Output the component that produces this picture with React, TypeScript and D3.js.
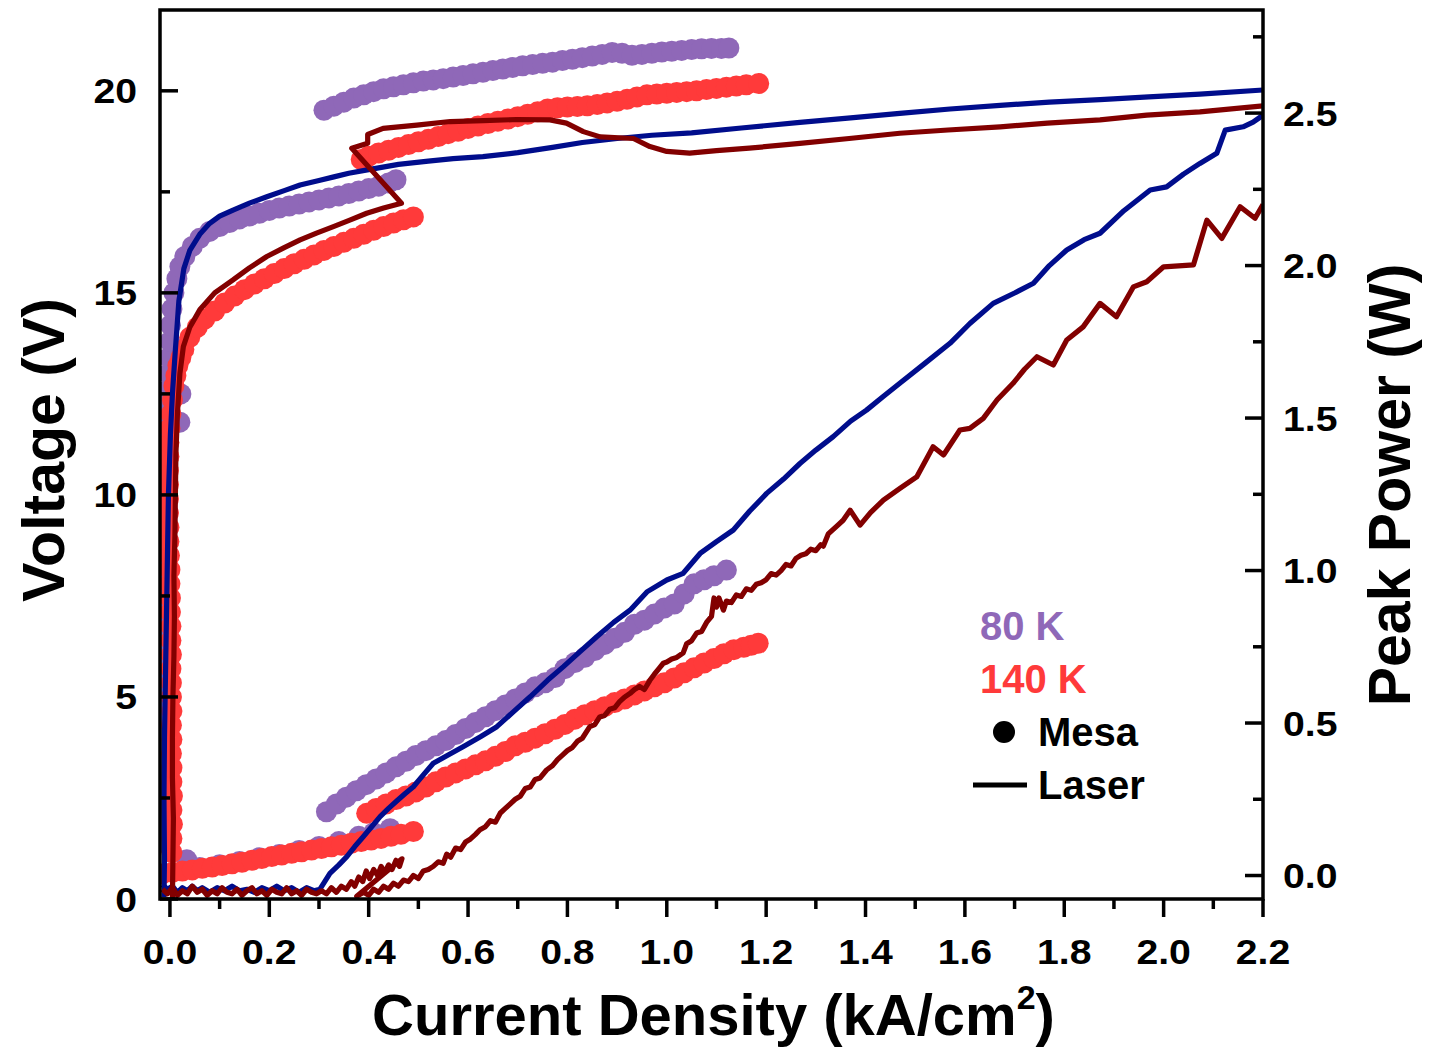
import React from 'react';
import * as d3 from 'd3';

type Pt = [number, number];

// ---------- axis ticks ----------
const xMajor = [0, 0.2, 0.4, 0.6, 0.8, 1.0, 1.2, 1.4, 1.6, 1.8, 2.0, 2.2];
const xMinor = [0.1, 0.3, 0.5, 0.7, 0.9, 1.1, 1.3, 1.5, 1.7, 1.9, 2.1];
const vMajor = [0, 5, 10, 15, 20];
const vMinor = [2.5, 7.5, 12.5, 17.5];
const pMajor = [0, 0.5, 1.0, 1.5, 2.0, 2.5];
const pMinor = [0.25, 0.75, 1.25, 1.75, 2.25, 2.75];

// ---------- Mesa 80 K (dots, left axis) ----------
const mesa80UpperA: Pt[] = [
  [-0.012, 1.4], [-0.012, 1.8], [-0.013, 2.2], [-0.012, 2.6], [-0.012, 3.0], [-0.013, 3.4], [-0.012, 3.8],
  [-0.011, 4.2], [-0.012, 4.6], [-0.011, 5.0], [-0.011, 5.4], [-0.012, 5.8], [-0.011, 6.2], [-0.012, 6.6],
  [-0.011, 7.0], [-0.01, 7.4], [-0.011, 7.8], [-0.01, 8.2], [-0.009, 8.6], [-0.01, 9.0], [-0.009, 9.4],
  [-0.009, 9.8], [-0.008, 10.2], [-0.008, 10.6], [-0.007, 11.0], [-0.007, 11.4], [0.02, 11.8], [0.022, 12.5],
  [-0.006, 11.8], [-0.005, 12.2], [-0.004, 12.6], [-0.003, 13.0], [-0.002, 13.4], [0.0, 13.8], [0.001, 14.2],
  [0.004, 14.6], [0.008, 15.0], [0.014, 15.35], [0.02, 15.65], [0.03, 15.9], [0.045, 16.15], [0.06, 16.35],
  [0.08, 16.52], [0.1, 16.64], [0.12, 16.74], [0.14, 16.83], [0.16, 16.9], [0.18, 16.97], [0.2, 17.04],
  [0.22, 17.1], [0.24, 17.15], [0.26, 17.2], [0.28, 17.25], [0.3, 17.3], [0.32, 17.35], [0.34, 17.4],
  [0.36, 17.46], [0.38, 17.52], [0.4, 17.58], [0.42, 17.64], [0.44, 17.72], [0.455, 17.8],
];
const mesa80UpperB: Pt[] = [
  [0.31, 19.52], [0.33, 19.62], [0.35, 19.72], [0.37, 19.82], [0.39, 19.9], [0.41, 19.98], [0.43, 20.05],
  [0.45, 20.1], [0.47, 20.15], [0.49, 20.2], [0.51, 20.24], [0.53, 20.27], [0.55, 20.3], [0.57, 20.34],
  [0.59, 20.38], [0.61, 20.42], [0.63, 20.46], [0.65, 20.5], [0.67, 20.54], [0.69, 20.58], [0.71, 20.62],
  [0.73, 20.65], [0.75, 20.68], [0.77, 20.71], [0.79, 20.75], [0.81, 20.78], [0.83, 20.82], [0.85, 20.86],
  [0.87, 20.9], [0.89, 20.95], [0.91, 20.93], [0.93, 20.88], [0.95, 20.9], [0.97, 20.93], [0.99, 20.96],
  [1.01, 20.98], [1.03, 21.0], [1.05, 21.02], [1.07, 21.04], [1.09, 21.05], [1.11, 21.05], [1.125, 21.06],
];
const mesa80LowerA: Pt[] = [
  [0.034, 0.97], [0.06, 0.78], [0.1, 0.85], [0.14, 0.93], [0.18, 1.02], [0.22, 1.1], [0.26, 1.2],
  [0.3, 1.3], [0.34, 1.42], [0.38, 1.55], [0.41, 1.64], [0.443, 1.74],
];
const mesa80LowerB: Pt[] = [
  [0.315, 2.16], [0.335, 2.35], [0.355, 2.52], [0.375, 2.68], [0.395, 2.83], [0.415, 2.97], [0.435, 3.12],
  [0.455, 3.27], [0.475, 3.41], [0.495, 3.55], [0.515, 3.67], [0.535, 3.79], [0.555, 3.92], [0.575, 4.07],
  [0.595, 4.22], [0.615, 4.37], [0.635, 4.51], [0.655, 4.66], [0.675, 4.8], [0.695, 4.95], [0.715, 5.1],
  [0.735, 5.25], [0.755, 5.35], [0.775, 5.48], [0.795, 5.7], [0.815, 5.85], [0.835, 5.98], [0.855, 6.15],
  [0.875, 6.3], [0.895, 6.45], [0.915, 6.6], [0.935, 6.8], [0.955, 6.9], [0.975, 7.05], [0.995, 7.2],
  [1.015, 7.3], [1.035, 7.55], [1.055, 7.8], [1.075, 7.9], [1.095, 8.0], [1.12, 8.14],
];

// ---------- Mesa 140 K (dots, left axis) ----------
const mesa140UpperA: Pt[] = [
  [0.004, 1.15], [0.004, 1.5], [0.005, 1.85], [0.004, 2.2], [0.005, 2.55], [0.004, 2.9], [0.004, 3.25],
  [0.003, 3.6], [0.004, 3.95], [0.003, 4.3], [0.004, 4.65], [0.003, 5.0], [0.003, 5.35], [0.002, 5.7],
  [0.003, 6.05], [0.002, 6.4], [0.002, 6.75], [0.001, 7.1], [0.001, 7.45], [0.0, 7.8], [0.0, 8.15],
  [-0.001, 8.5], [-0.002, 8.85], [-0.002, 9.2], [-0.003, 9.55], [-0.003, 9.9], [-0.003, 10.25],
  [-0.003, 10.6], [-0.002, 10.95], [-0.002, 11.3], [0.0, 11.65], [0.002, 12.0], [0.005, 12.35],
  [0.008, 12.7], [0.012, 12.95], [0.016, 13.2], [0.022, 13.4], [0.028, 13.6], [0.04, 13.9],
  [0.055, 14.15], [0.07, 14.35], [0.09, 14.55], [0.11, 14.75], [0.13, 14.92], [0.15, 15.08], [0.17, 15.22],
  [0.19, 15.35], [0.21, 15.48], [0.23, 15.6], [0.25, 15.72], [0.27, 15.83], [0.29, 15.94], [0.31, 16.05],
  [0.33, 16.15], [0.35, 16.25], [0.37, 16.35], [0.39, 16.45], [0.41, 16.55], [0.43, 16.64], [0.45, 16.73],
  [0.47, 16.81], [0.49, 16.88],
];
const mesa140UpperB: Pt[] = [
  [0.385, 18.3], [0.4, 18.38], [0.42, 18.46], [0.44, 18.53], [0.46, 18.6], [0.48, 18.67], [0.5, 18.74],
  [0.52, 18.8], [0.54, 18.87], [0.56, 18.94], [0.58, 19.0], [0.6, 19.07], [0.62, 19.13], [0.64, 19.19],
  [0.66, 19.25], [0.68, 19.3], [0.7, 19.36], [0.72, 19.42], [0.74, 19.48], [0.76, 19.55], [0.78, 19.58],
  [0.8, 19.6], [0.82, 19.61], [0.84, 19.63], [0.86, 19.66], [0.88, 19.7], [0.9, 19.74], [0.92, 19.79],
  [0.94, 19.85], [0.96, 19.9], [0.98, 19.92], [1.0, 19.94], [1.02, 19.96], [1.04, 19.98], [1.06, 20.0],
  [1.08, 20.03], [1.1, 20.06], [1.12, 20.09], [1.14, 20.12], [1.16, 20.15], [1.185, 20.18],
];
const mesa140LowerA: Pt[] = [
  [-0.015, 0.62], [0.005, 0.66], [0.025, 0.69], [0.045, 0.72], [0.065, 0.76], [0.085, 0.79], [0.105, 0.83],
  [0.125, 0.87], [0.145, 0.91], [0.165, 0.96], [0.185, 1.0], [0.205, 1.05], [0.225, 1.09], [0.245, 1.13],
  [0.265, 1.17], [0.285, 1.21], [0.305, 1.25], [0.325, 1.29], [0.345, 1.33], [0.365, 1.38], [0.385, 1.42],
  [0.405, 1.46], [0.425, 1.5], [0.445, 1.55], [0.465, 1.6], [0.49, 1.67],
];
const mesa140LowerB: Pt[] = [
  [0.396, 2.12], [0.415, 2.24], [0.435, 2.35], [0.455, 2.46], [0.475, 2.55], [0.495, 2.65], [0.515, 2.77],
  [0.535, 2.9], [0.555, 3.02], [0.575, 3.12], [0.595, 3.22], [0.615, 3.32], [0.635, 3.42], [0.655, 3.53],
  [0.675, 3.65], [0.695, 3.79], [0.715, 3.88], [0.735, 3.98], [0.755, 4.09], [0.775, 4.2], [0.795, 4.32],
  [0.815, 4.45], [0.835, 4.56], [0.855, 4.66], [0.875, 4.76], [0.895, 4.86], [0.915, 4.95], [0.935, 5.05],
  [0.955, 5.15], [0.975, 5.25], [0.995, 5.35], [1.015, 5.47], [1.035, 5.6], [1.055, 5.72], [1.075, 5.84],
  [1.095, 5.95], [1.115, 6.07], [1.135, 6.17], [1.155, 6.23], [1.17, 6.28], [1.184, 6.33],
];

// ---------- Laser 80 K (lines) ----------
const laser80Voltage: Pt[] = [
  [-0.012, 0.05], [-0.011, 1.0], [-0.012, 2.5], [-0.011, 4.0], [-0.009, 5.5], [-0.007, 7.0], [-0.005, 8.5],
  [-0.003, 10.0], [0.001, 11.5], [0.005, 12.5], [0.011, 13.6], [0.018, 14.8], [0.028, 15.6], [0.04, 16.05],
  [0.06, 16.45], [0.08, 16.72], [0.1, 16.9], [0.127, 17.05], [0.16, 17.22], [0.195, 17.38], [0.23, 17.53],
  [0.262, 17.67], [0.3, 17.78], [0.33, 17.87], [0.36, 17.96], [0.4, 18.05], [0.46, 18.18], [0.52, 18.26],
  [0.57, 18.32], [0.63, 18.37], [0.7, 18.47], [0.77, 18.6], [0.83, 18.72], [0.9, 18.82], [0.97, 18.9],
  [1.05, 18.96], [1.15, 19.08], [1.268, 19.22], [1.37, 19.33], [1.469, 19.44], [1.57, 19.55], [1.671, 19.64],
  [1.77, 19.72], [1.872, 19.78], [1.97, 19.85], [2.073, 19.92], [2.2, 20.02],
];
const laser80Power: Pt[] = [
  [-0.015, -0.03], [-0.005, -0.045], [0.005, -0.035], [0.015, -0.055], [0.025, -0.04], [0.035, -0.05],
  [0.045, -0.035], [0.055, -0.05], [0.065, -0.04], [0.08, -0.055], [0.095, -0.04], [0.11, -0.05],
  [0.125, -0.035], [0.14, -0.05], [0.155, -0.045], [0.17, -0.055], [0.185, -0.04], [0.2, -0.05],
  [0.215, -0.035], [0.23, -0.05], [0.245, -0.04], [0.26, -0.055], [0.275, -0.04], [0.29, -0.05],
  [0.302, -0.045], [0.322, 0.007], [0.34, 0.035], [0.356, 0.062], [0.372, 0.095], [0.389, 0.127],
  [0.406, 0.16], [0.423, 0.193], [0.44, 0.22], [0.457, 0.245], [0.473, 0.268], [0.49, 0.291], [0.51, 0.33],
  [0.53, 0.368], [0.56, 0.395], [0.59, 0.422], [0.625, 0.455], [0.658, 0.488], [0.69, 0.535], [0.725, 0.586],
  [0.76, 0.64], [0.792, 0.685], [0.826, 0.735], [0.859, 0.783], [0.893, 0.83], [0.926, 0.87], [0.96, 0.93],
  [1.0, 0.969], [1.033, 0.991], [1.067, 1.056], [1.1, 1.095], [1.134, 1.133], [1.167, 1.195], [1.201, 1.253],
  [1.235, 1.3], [1.268, 1.351], [1.3, 1.395], [1.335, 1.439], [1.37, 1.49], [1.402, 1.526], [1.435, 1.57],
  [1.469, 1.614], [1.52, 1.68], [1.57, 1.745], [1.61, 1.81], [1.657, 1.876], [1.7, 1.91], [1.738, 1.942],
  [1.77, 2.0], [1.805, 2.051], [1.84, 2.085], [1.872, 2.106], [1.92, 2.18], [1.973, 2.248], [2.006, 2.258],
  [2.04, 2.3], [2.073, 2.335], [2.107, 2.368], [2.124, 2.444], [2.16, 2.455], [2.18, 2.47], [2.2, 2.493],
];

// ---------- Laser 140 K (lines) ----------
const laser140Voltage: Pt[] = [
  [0.005, 0.0], [0.006, 1.0], [0.007, 2.0], [0.005, 3.0], [0.005, 4.0], [0.006, 5.0], [0.008, 6.0],
  [0.009, 7.0], [0.008, 8.0], [0.01, 9.0], [0.011, 10.0], [0.012, 11.0], [0.015, 12.0], [0.02, 13.0],
  [0.027, 13.67], [0.04, 14.15], [0.06, 14.58], [0.09, 15.0], [0.127, 15.32], [0.16, 15.62], [0.195, 15.9],
  [0.23, 16.12], [0.262, 16.31], [0.295, 16.48], [0.329, 16.64], [0.362, 16.8], [0.396, 16.97], [0.43, 17.1],
  [0.466, 17.22], [0.366, 18.58], [0.398, 18.7], [0.398, 18.92], [0.429, 19.07], [0.497, 19.15],
  [0.564, 19.24], [0.631, 19.26], [0.698, 19.29], [0.765, 19.28], [0.798, 19.2], [0.832, 18.99],
  [0.866, 18.86], [0.933, 18.82], [0.966, 18.62], [1.0, 18.5], [1.046, 18.46], [1.1, 18.52], [1.166, 18.58],
  [1.268, 18.7], [1.367, 18.82], [1.469, 18.95], [1.566, 19.03], [1.671, 19.11], [1.766, 19.2],
  [1.872, 19.28], [1.966, 19.4], [2.073, 19.48], [2.2, 19.63],
];
const laser140Power: Pt[] = [
  [-0.015, -0.045], [-0.005, -0.06], [0.005, -0.04], [0.015, -0.065], [0.025, -0.05], [0.035, -0.06],
  [0.045, -0.035], [0.055, -0.055], [0.065, -0.045], [0.075, -0.065], [0.085, -0.05], [0.095, -0.06],
  [0.105, -0.04], [0.115, -0.055], [0.125, -0.06], [0.135, -0.045], [0.145, -0.065], [0.155, -0.05],
  [0.165, -0.04], [0.175, -0.06], [0.185, -0.05], [0.195, -0.065], [0.205, -0.045], [0.215, -0.055],
  [0.225, -0.06], [0.235, -0.04], [0.245, -0.06], [0.255, -0.05], [0.265, -0.065], [0.275, -0.045],
  [0.285, -0.055], [0.295, -0.06], [0.305, -0.05], [0.315, -0.06], [0.325, -0.04], [0.335, -0.055],
  [0.345, -0.035], [0.355, -0.045], [0.365, -0.02], [0.372, -0.035], [0.38, -0.005], [0.388, -0.02],
  [0.395, 0.015], [0.402, -0.01], [0.41, 0.02], [0.418, 0.0], [0.425, 0.03], [0.432, 0.01], [0.44, 0.035],
  [0.447, 0.02], [0.455, 0.05], [0.462, 0.03], [0.467, 0.055],
  [0.376, -0.068], [0.39, -0.055], [0.4, -0.065], [0.41, -0.045], [0.42, -0.055], [0.43, -0.035],
  [0.44, -0.045], [0.45, -0.025], [0.46, -0.035], [0.47, -0.015], [0.48, -0.02], [0.49, 0.0], [0.5, -0.01],
  [0.51, 0.015], [0.52, 0.02], [0.53, 0.03], [0.54, 0.045], [0.55, 0.04], [0.557, 0.07], [0.565, 0.06],
  [0.575, 0.09], [0.585, 0.085], [0.595, 0.11], [0.605, 0.12], [0.615, 0.135], [0.624, 0.15], [0.635, 0.16],
  [0.645, 0.18], [0.655, 0.175], [0.665, 0.205], [0.675, 0.22], [0.685, 0.235], [0.695, 0.25], [0.705, 0.26],
  [0.715, 0.285], [0.725, 0.29], [0.735, 0.315], [0.745, 0.32], [0.758, 0.346], [0.77, 0.36], [0.78, 0.38],
  [0.79, 0.395], [0.8, 0.41], [0.81, 0.42], [0.82, 0.44], [0.83, 0.45], [0.845, 0.488], [0.855, 0.495],
  [0.865, 0.52], [0.875, 0.525], [0.885, 0.545], [0.895, 0.55], [0.905, 0.57], [0.915, 0.585], [0.926, 0.597],
  [0.935, 0.61], [0.945, 0.62], [0.955, 0.61], [0.966, 0.64], [0.975, 0.66], [0.985, 0.68], [0.993, 0.696],
  [1.0, 0.7], [1.01, 0.71], [1.02, 0.715], [1.033, 0.73], [1.04, 0.76], [1.05, 0.77], [1.06, 0.795],
  [1.07, 0.8], [1.08, 0.83], [1.09, 0.85], [1.095, 0.91], [1.1, 0.88], [1.105, 0.91], [1.114, 0.87],
  [1.12, 0.9], [1.13, 0.895], [1.14, 0.92], [1.15, 0.915], [1.16, 0.94], [1.17, 0.935], [1.18, 0.955],
  [1.19, 0.96], [1.2, 0.97], [1.21, 0.99], [1.22, 0.985], [1.23, 1.0], [1.24, 1.02], [1.25, 1.015],
  [1.26, 1.04], [1.27, 1.05], [1.28, 1.055], [1.29, 1.07], [1.3, 1.065], [1.31, 1.085], [1.315, 1.08],
  [1.325, 1.12], [1.335, 1.135], [1.345, 1.15], [1.355, 1.165], [1.369, 1.198], [1.389, 1.149], [1.41, 1.19],
  [1.436, 1.231], [1.47, 1.27], [1.503, 1.307], [1.536, 1.406], [1.557, 1.379], [1.59, 1.461], [1.61, 1.466],
  [1.637, 1.499], [1.665, 1.56], [1.697, 1.614], [1.72, 1.66], [1.745, 1.701], [1.778, 1.674], [1.805, 1.756],
  [1.838, 1.799], [1.872, 1.876], [1.905, 1.832], [1.939, 1.93], [1.966, 1.947], [2.0, 1.996], [2.06, 2.002],
  [2.087, 2.149], [2.117, 2.089], [2.154, 2.193], [2.184, 2.155], [2.2, 2.2],
];

const legendTemps = ['80 K', '140 K'];
const legendKinds = ['Mesa', 'Laser'];

const PURPLE = '#8f68b8';
const RED = '#ff3a3a';
const BLUE = '#000d8c';
const DARKRED = '#820000';
const FONT = "'Liberation Sans', Arial, Helvetica, sans-serif";

export default function App() {
  const W = 1429, H = 1050;
  const L = 160, R = 1263, T = 10, B = 899;
  const x = d3.scaleLinear().domain([-0.02, 2.2]).range([L, R]);
  const yV = d3.scaleLinear().domain([0, 22]).range([B, T]);
  const yP = d3.scaleLinear().domain([-0.077, 2.838]).range([B, T]);

  const lineV = d3.line<Pt>().x(d => x(d[0])).y(d => yV(d[1]));
  const lineP = d3.line<Pt>().x(d => x(d[0])).y(d => yP(d[1]));

  const dots = (data: Pt[], color: string, key: string) =>
    data.map((d, i) => <circle key={key + i} cx={x(d[0])} cy={yV(d[1])} r={10.5} fill={color} />);

  const tickFs = 35;
  const sx = 1.12;
  const fmt1 = d3.format('.1f');
  const lw = 5.2;

  return (
    <svg width={W} height={H} style={{ position: 'absolute', left: 0, top: 0, background: '#fff' }}
      fontFamily={FONT} fontWeight="bold">
      <rect x={0} y={0} width={W} height={H} fill="#fff" />
      <defs>
        <clipPath id="plotclip">
          <rect x={L} y={T} width={R - L} height={B - T} />
        </clipPath>
      </defs>
      <g clipPath="url(#plotclip)">
        {dots(mesa80LowerA, PURPLE, 'p80la')}
        {dots(mesa80UpperA, PURPLE, 'p80ua')}
        {dots(mesa80UpperB, PURPLE, 'p80ub')}
        {dots(mesa80LowerB, PURPLE, 'p80lb')}
        {dots(mesa140UpperA, RED, 'r140ua')}
        {dots(mesa140LowerA, RED, 'r140la')}
        {dots(mesa140UpperB, RED, 'r140ub')}
        {dots(mesa140LowerB, RED, 'r140lb')}
        <path d={lineP(laser80Power) || ''} fill="none" stroke={BLUE} strokeWidth={lw} strokeLinejoin="round" />
        <path d={lineV(laser80Voltage) || ''} fill="none" stroke={BLUE} strokeWidth={lw} strokeLinejoin="round" />
        <path d={lineP(laser140Power) || ''} fill="none" stroke={DARKRED} strokeWidth={lw} strokeLinejoin="round" />
        <path d={lineV(laser140Voltage) || ''} fill="none" stroke={DARKRED} strokeWidth={lw} strokeLinejoin="round" />
      </g>

      {/* frame */}
      <rect x={L} y={T} width={R - L} height={B - T} fill="none" stroke="#000" strokeWidth={3.5} />

      {/* bottom axis ticks (outward) */}
      {xMajor.map(v => (
        <line key={'xM' + v} x1={x(v)} x2={x(v)} y1={B} y2={B + 18} stroke="#000" strokeWidth={3.5} />
      ))}
      {xMinor.map(v => (
        <line key={'xm' + v} x1={x(v)} x2={x(v)} y1={B} y2={B + 10} stroke="#000" strokeWidth={3.5} />
      ))}
      {xMajor.map(v => (
        <text key={'xl' + v} transform={`translate(${x(v)},964) scale(${sx},1)`} textAnchor="middle"
          fontSize={tickFs} fill="#000">{fmt1(v)}</text>
      ))}

      {/* left axis (inward ticks) */}
      {vMajor.map(v => (
        <line key={'vM' + v} x1={L} x2={L + 18} y1={yV(v)} y2={yV(v)} stroke="#000" strokeWidth={3.5} />
      ))}
      {vMinor.map(v => (
        <line key={'vm' + v} x1={L} x2={L + 10} y1={yV(v)} y2={yV(v)} stroke="#000" strokeWidth={3.5} />
      ))}
      {vMajor.map(v => (
        <text key={'vl' + v} transform={`translate(137,${yV(v) + 12.5}) scale(${sx},1)`} textAnchor="end"
          fontSize={tickFs} fill="#000">{String(v)}</text>
      ))}

      {/* right axis (inward ticks) */}
      {pMajor.map(v => (
        <line key={'pM' + v} x1={R - 18} x2={R} y1={yP(v)} y2={yP(v)} stroke="#000" strokeWidth={3.5} />
      ))}
      {pMinor.map(v => (
        <line key={'pm' + v} x1={R - 10} x2={R} y1={yP(v)} y2={yP(v)} stroke="#000" strokeWidth={3.5} />
      ))}
      {pMajor.map(v => (
        <text key={'pl' + v} transform={`translate(1283,${yP(v) + 12.5}) scale(${sx},1)`} textAnchor="start"
          fontSize={tickFs} fill="#000">{fmt1(v)}</text>
      ))}

      {/* axis titles */}
      <text x={(L + R) / 2 + 2} y={1035} textAnchor="middle" fontSize={58} fill="#000">
        Current Density (kA/cm<tspan fontSize={34} dy={-26}>2</tspan><tspan dy={26}>)</tspan>
      </text>
      <text transform={`translate(64,450) rotate(-90)`} textAnchor="middle" fontSize={59} fill="#000">Voltage (V)</text>
      <text transform={`translate(1410,485) rotate(-90)`} textAnchor="middle" fontSize={59} fill="#000">Peak Power (W)</text>

      {/* legend */}
      <text x={980} y={640} fontSize={40} fill={PURPLE}>{legendTemps[0]}</text>
      <text x={980} y={693} fontSize={40} fill={RED}>{legendTemps[1]}</text>
      <circle cx={1004} cy={732} r={11} fill="#000" />
      <text x={1038} y={746} fontSize={40} fill="#000">{legendKinds[0]}</text>
      <line x1={973} x2={1027} y1={785} y2={785} stroke="#000" strokeWidth={5} />
      <text x={1038} y={799} fontSize={40} fill="#000">{legendKinds[1]}</text>
    </svg>
  );
}
